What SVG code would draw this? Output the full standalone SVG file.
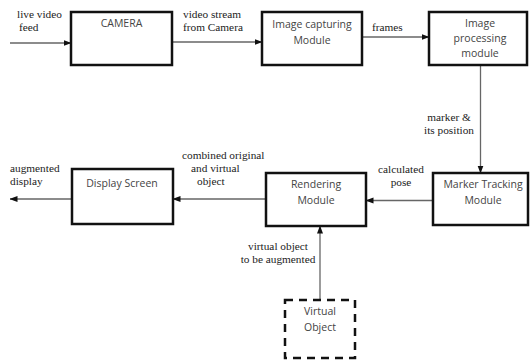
<svg xmlns="http://www.w3.org/2000/svg" width="530" height="362" viewBox="0 0 530 362">
<defs>
<marker id="ah" viewBox="0 0 8 8" refX="7.5" refY="4" markerWidth="8" markerHeight="8" markerUnits="userSpaceOnUse" orient="auto">
<path d="M0,1 L8,4 L0,7 Z" fill="#111"/>
</marker>
<style>
.box{fill:#fff;stroke:#111;stroke-width:2.5}
.dash{fill:#fff;stroke:#111;stroke-width:2.5;stroke-dasharray:8,6}
.bt{font-family:"Open Sans","Noto Sans","Liberation Sans",sans-serif;font-size:10.5px;fill:#444;text-anchor:middle}
.lt{font-family:"Liberation Serif","DejaVu Serif",serif;font-size:11.3px;fill:#222}
.c{stroke:#666;stroke-width:1.3;fill:none;marker-end:url(#ah)}
</style>
</defs>
<rect width="530" height="362" fill="#fff"/>
<g id="connectors">
<line class="c" x1="10" y1="43" x2="71" y2="43"/>
<line class="c" x1="172" y1="42" x2="262" y2="42"/>
<line class="c" x1="362" y1="37" x2="429" y2="37"/>
<line class="c" x1="480.5" y1="65" x2="480.5" y2="173"/>
<line class="c" x1="433" y1="200.5" x2="366" y2="200.5"/>
<line class="c" x1="320" y1="300" x2="320" y2="226"/>
<line class="c" x1="266" y1="199" x2="173" y2="199"/>
<line class="c" x1="72" y1="199" x2="10" y2="199"/>
<text class="lt" x="17" y="18">live video</text>
<text class="lt" x="19" y="31">feed</text>
<text class="lt" x="183" y="18">video stream</text>
<text class="lt" x="183" y="31">from Camera</text>
<text class="lt" x="372" y="31">frames</text>
<text class="lt" x="449" y="121" text-anchor="middle">marker &amp;</text>
<text class="lt" x="449" y="134" text-anchor="middle">its position</text>
<text class="lt" x="401" y="173" text-anchor="middle">calculated</text>
<text class="lt" x="401" y="186" text-anchor="middle">pose</text>
<text class="lt" x="182" y="159">combined original</text>
<text class="lt" x="191" y="172">and virtual</text>
<text class="lt" x="197" y="185">object</text>
<text class="lt" x="10" y="172">augmented</text>
<text class="lt" x="10" y="185">display</text>
<text class="lt" x="278" y="250" text-anchor="middle">virtual object</text>
<text class="lt" x="278" y="263" text-anchor="middle">to be augmented</text>
</g>
<g id="camera">
<rect class="box" x="71" y="12" width="101" height="53"/>
<text class="bt" x="121.5" y="27">CAMERA</text>
</g>
<g id="image-capturing">
<rect class="box" x="262" y="12" width="100" height="53"/>
<text class="bt" x="312" y="28">Image capturing</text>
<text class="bt" x="312" y="44">Module</text>
</g>
<g id="image-processing">
<rect class="box" x="429" y="12" width="98" height="53"/>
<text class="bt" x="480" y="27">Image</text>
<text class="bt" x="480" y="42">processing</text>
<text class="bt" x="480" y="57">module</text>
</g>
<g id="marker-tracking">
<rect class="box" x="433" y="173" width="95" height="52"/>
<text class="bt" x="483" y="188">Marker Tracking</text>
<text class="bt" x="483" y="204">Module</text>
</g>
<g id="rendering">
<rect class="box" x="266" y="173" width="100" height="53"/>
<text class="bt" x="316" y="188">Rendering</text>
<text class="bt" x="316" y="204">Module</text>
</g>
<g id="display-screen">
<rect class="box" x="72" y="169" width="101" height="55"/>
<text class="bt" x="122" y="187">Display Screen</text>
</g>
<g id="virtual-object">
<rect class="dash" x="285" y="300" width="70" height="58"/>
<text class="bt" x="320" y="315">Virtual</text>
<text class="bt" x="320" y="331">Object</text>
</g>
</svg>
